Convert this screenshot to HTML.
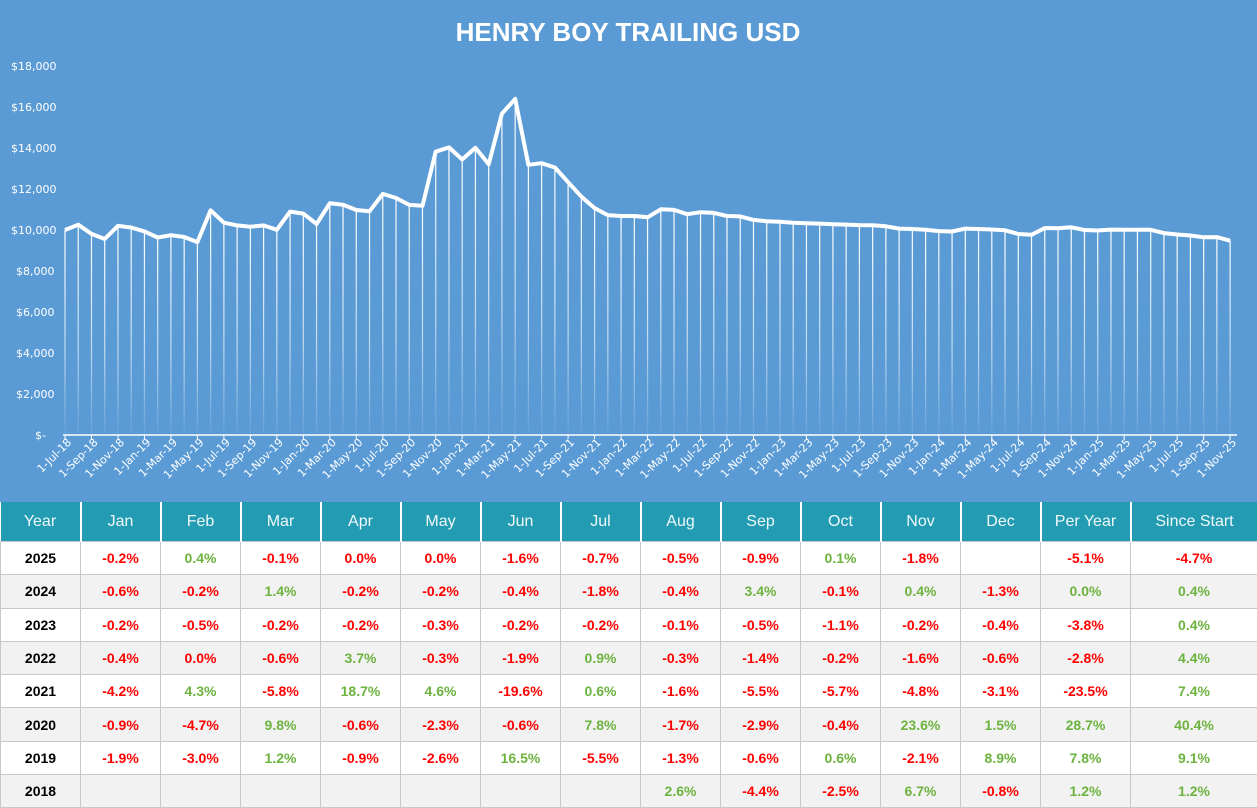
<!DOCTYPE html>
<html><head><meta charset="utf-8"><style>
body{margin:0;width:1257px;height:807px;overflow:hidden;background:#fff;font-family:"Liberation Sans",Arial,sans-serif}
#chart{position:absolute;left:0;top:0;width:1257px;height:502px;background:#5b9bd5}
table{position:absolute;left:0;top:502px;border-collapse:collapse;table-layout:fixed;width:1257px}
th{background:#239cb3;color:#eef8fa;font-weight:normal;font-size:16px;height:39px;border-left:2px solid #fff;padding:0}
th:first-child{border-left:none}
td{height:32.3px;border:1px solid #c8c8c8;text-align:center;font-weight:bold;font-size:14px;padding:0;background:#fff}
tr:nth-child(odd) td{background:#f2f2f2}
td:first-child{color:#000}
.r{color:#ff0000}.g{color:#6db33f}
</style></head><body>
<svg id="chart" width="1257" height="502" xmlns="http://www.w3.org/2000/svg">
<defs><linearGradient id="fd" x1="0" y1="0" x2="0" y2="1" gradientUnits="objectBoundingBox"><stop offset="0" stop-color="#fff" stop-opacity="1"/><stop offset="0.6" stop-color="#fff" stop-opacity="0.6"/><stop offset="1" stop-color="#fff" stop-opacity="0.05"/></linearGradient></defs>
<text x="628" y="41" text-anchor="middle" fill="#fff" font-size="26" font-weight="bold" font-family="Liberation Sans,sans-serif">HENRY BOY TRAILING USD</text>
<g fill="#fff" font-size="11" font-family="DejaVu Sans,sans-serif" text-anchor="start">
<text x="11" y="70">$18,000</text><text x="11" y="111">$16,000</text><text x="11" y="152">$14,000</text><text x="11" y="193">$12,000</text><text x="11" y="234">$10,000</text><text x="16" y="275">$8,000</text><text x="16" y="316">$6,000</text><text x="16" y="357">$4,000</text><text x="16" y="398">$2,000</text><text x="35" y="439">$-</text>
</g>
<g id="drops"></g>
<polyline id="line" fill="none" stroke="#fff" stroke-width="4" stroke-linejoin="round"/>
<line x1="63" y1="435" x2="1237" y2="435" stroke="#fff" stroke-width="1.5"/>
<g id="ticks"></g>
<g id="xl" fill="#fff" font-size="11" font-family="DejaVu Sans,sans-serif" text-anchor="end">
<text>1-Jul-18</text><text>1-Sep-18</text><text>1-Nov-18</text><text>1-Jan-19</text><text>1-Mar-19</text><text>1-May-19</text><text>1-Jul-19</text><text>1-Sep-19</text><text>1-Nov-19</text><text>1-Jan-20</text><text>1-Mar-20</text><text>1-May-20</text><text>1-Jul-20</text><text>1-Sep-20</text><text>1-Nov-20</text><text>1-Jan-21</text><text>1-Mar-21</text><text>1-May-21</text><text>1-Jul-21</text><text>1-Sep-21</text><text>1-Nov-21</text><text>1-Jan-22</text><text>1-Mar-22</text><text>1-May-22</text><text>1-Jul-22</text><text>1-Sep-22</text><text>1-Nov-22</text><text>1-Jan-23</text><text>1-Mar-23</text><text>1-May-23</text><text>1-Jul-23</text><text>1-Sep-23</text><text>1-Nov-23</text><text>1-Jan-24</text><text>1-Mar-24</text><text>1-May-24</text><text>1-Jul-24</text><text>1-Sep-24</text><text>1-Nov-24</text><text>1-Jan-25</text><text>1-Mar-25</text><text>1-May-25</text><text>1-Jul-25</text><text>1-Sep-25</text><text>1-Nov-25</text>
</g>
</svg>
<table>
<colgroup><col style="width:80px"><col style="width:80px"><col style="width:80px"><col style="width:80px"><col style="width:80px"><col style="width:80px"><col style="width:80px"><col style="width:80px"><col style="width:80px"><col style="width:80px"><col style="width:80px"><col style="width:80px"><col style="width:80px"><col style="width:90px"><col style="width:127px"></colgroup>
<tr><th>Year</th><th>Jan</th><th>Feb</th><th>Mar</th><th>Apr</th><th>May</th><th>Jun</th><th>Jul</th><th>Aug</th><th>Sep</th><th>Oct</th><th>Nov</th><th>Dec</th><th>Per Year</th><th>Since Start</th></tr>
<tr><td>2025</td><td class="r">-0.2%</td><td class="g">0.4%</td><td class="r">-0.1%</td><td class="r">0.0%</td><td class="r">0.0%</td><td class="r">-1.6%</td><td class="r">-0.7%</td><td class="r">-0.5%</td><td class="r">-0.9%</td><td class="g">0.1%</td><td class="r">-1.8%</td><td></td><td class="r">-5.1%</td><td class="r">-4.7%</td></tr>
<tr><td>2024</td><td class="r">-0.6%</td><td class="r">-0.2%</td><td class="g">1.4%</td><td class="r">-0.2%</td><td class="r">-0.2%</td><td class="r">-0.4%</td><td class="r">-1.8%</td><td class="r">-0.4%</td><td class="g">3.4%</td><td class="r">-0.1%</td><td class="g">0.4%</td><td class="r">-1.3%</td><td class="g">0.0%</td><td class="g">0.4%</td></tr>
<tr><td>2023</td><td class="r">-0.2%</td><td class="r">-0.5%</td><td class="r">-0.2%</td><td class="r">-0.2%</td><td class="r">-0.3%</td><td class="r">-0.2%</td><td class="r">-0.2%</td><td class="r">-0.1%</td><td class="r">-0.5%</td><td class="r">-1.1%</td><td class="r">-0.2%</td><td class="r">-0.4%</td><td class="r">-3.8%</td><td class="g">0.4%</td></tr>
<tr><td>2022</td><td class="r">-0.4%</td><td class="r">0.0%</td><td class="r">-0.6%</td><td class="g">3.7%</td><td class="r">-0.3%</td><td class="r">-1.9%</td><td class="g">0.9%</td><td class="r">-0.3%</td><td class="r">-1.4%</td><td class="r">-0.2%</td><td class="r">-1.6%</td><td class="r">-0.6%</td><td class="r">-2.8%</td><td class="g">4.4%</td></tr>
<tr><td>2021</td><td class="r">-4.2%</td><td class="g">4.3%</td><td class="r">-5.8%</td><td class="g">18.7%</td><td class="g">4.6%</td><td class="r">-19.6%</td><td class="g">0.6%</td><td class="r">-1.6%</td><td class="r">-5.5%</td><td class="r">-5.7%</td><td class="r">-4.8%</td><td class="r">-3.1%</td><td class="r">-23.5%</td><td class="g">7.4%</td></tr>
<tr><td>2020</td><td class="r">-0.9%</td><td class="r">-4.7%</td><td class="g">9.8%</td><td class="r">-0.6%</td><td class="r">-2.3%</td><td class="r">-0.6%</td><td class="g">7.8%</td><td class="r">-1.7%</td><td class="r">-2.9%</td><td class="r">-0.4%</td><td class="g">23.6%</td><td class="g">1.5%</td><td class="g">28.7%</td><td class="g">40.4%</td></tr>
<tr><td>2019</td><td class="r">-1.9%</td><td class="r">-3.0%</td><td class="g">1.2%</td><td class="r">-0.9%</td><td class="r">-2.6%</td><td class="g">16.5%</td><td class="r">-5.5%</td><td class="r">-1.3%</td><td class="r">-0.6%</td><td class="g">0.6%</td><td class="r">-2.1%</td><td class="g">8.9%</td><td class="g">7.8%</td><td class="g">9.1%</td></tr>
<tr><td>2018</td><td></td><td></td><td></td><td></td><td></td><td></td><td></td><td class="g">2.6%</td><td class="r">-4.4%</td><td class="r">-2.5%</td><td class="g">6.7%</td><td class="r">-0.8%</td><td class="g">1.2%</td><td class="g">1.2%</td></tr>
</table>
<script>
var r=[2.6,-4.4,-2.5,6.7,-0.8,
-1.9,-3.0,1.2,-0.9,-2.6,16.5,-5.5,-1.3,-0.6,0.6,-2.1,8.9,
-0.9,-4.7,9.8,-0.6,-2.3,-0.6,7.8,-1.7,-2.9,-0.4,23.6,1.5,
-4.2,4.3,-5.8,18.7,4.6,-19.6,0.6,-1.6,-5.5,-5.7,-4.8,-3.1,
-0.4,0.0,-0.6,3.7,-0.3,-1.9,0.9,-0.3,-1.4,-0.2,-1.6,-0.6,
-0.2,-0.5,-0.2,-0.2,-0.3,-0.2,-0.2,-0.1,-0.5,-1.1,-0.2,-0.4,
-0.6,-0.2,1.4,-0.2,-0.2,-0.4,-1.8,-0.4,3.4,-0.1,0.4,-1.3,
-0.2,0.4,-0.1,0.0,0.0,-1.6,-0.7,-0.5,-0.9,0.1,-1.8];
var v=[10000];for(var i=0;i<r.length;i++)v.push(v[i]*(1+r[i]/100));
var dx=13.24,x0=65,pts=[],ns="http://www.w3.org/2000/svg",d=document.getElementById('drops'),tk=document.getElementById('ticks');
function Y(val){return 435-val*369/18000;}
for(i=0;i<v.length;i++){var x=x0+dx*i,y=Y(v[i]);pts.push(x.toFixed(1)+","+y.toFixed(1));
var l=document.createElementNS(ns,'rect');l.setAttribute('x',x-0.6);l.setAttribute('y',y);l.setAttribute('width',1.2);l.setAttribute('height',435-y);l.setAttribute('fill','url(#fd)');d.appendChild(l);}
document.getElementById('line').setAttribute('points',pts.join(' '));
var t=document.getElementById('xl').children;
for(i=0;i<t.length;i++){var x=x0+dx*2*i;t[i].setAttribute('transform','translate('+(x+7)+',443) rotate(-45)');
var k=document.createElementNS(ns,'line');k.setAttribute('x1',x);k.setAttribute('x2',x);k.setAttribute('y1',435);k.setAttribute('y2',439);k.setAttribute('stroke','#fff');tk.appendChild(k);}
</script>
</body></html>
